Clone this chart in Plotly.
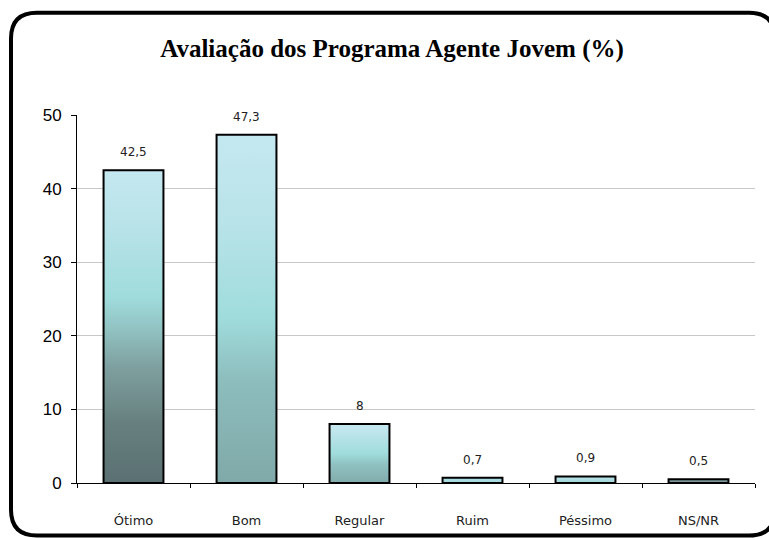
import plotly.graph_objects as go

categories = ["Ótimo", "Bom", "Regular", "Ruim", "Péssimo", "NS/NR"]
values = [42.5, 47.3, 8, 0.7, 0.9, 0.5]
value_labels = ["42,5", "47,3", "8", "0,7", "0,9", "0,5"]
y_ticks = [0, 10, 20, 30, 40, 50]
title_text = "Avaliação dos Programa Agente Jovem (%)"

# per-bar gradient (bottom -> top)
gradients = [
    [[0, "#5a6f72"], [0.2, "#67807f"], [0.38, "#7fa0a0"], [0.5, "#92c3c3"], [0.6, "#a0dcdc"], [0.8, "#b6e2e7"], [1, "#c5e8f0"]],
    [[0, "#80a8a8"], [0.3, "#8dbdbd"], [0.48, "#a0dcdc"], [0.75, "#b8e3e8"], [1, "#c5e8f0"]],
    [[0, "#80a8a8"], [0.35, "#8fc0c0"], [0.55, "#a0dcdc"], [1, "#c5e8f0"]],
    [[0, "#93c7cb"], [1, "#a8dce0"]],
    [[0, "#7fa4a6"], [0.5, "#9fd3d6"], [1, "#b0dfe4"]],
    [[0, "#647d80"], [1, "#7a9698"]],
]

W, H = 769, 540
L, R, T, B = 77, W - 755, 115, H - 486
bar_w = 0.53

fig = go.Figure()
for i, (cat, v) in enumerate(zip(categories, values)):
    x0, x1 = i - bar_w / 2, i + bar_w / 2
    fig.add_trace(go.Scatter(
        x=[x0, x1, x1, x0, x0], y=[0, 0, v, v, 0],
        mode="lines", fill="toself",
        fillgradient=dict(type="vertical", colorscale=gradients[i], start=0, stop=v),
        line=dict(color="black", width=2),
        hoverinfo="skip", showlegend=False,
    ))
    fig.add_annotation(x=i, y=v, text=value_labels[i], showarrow=False,
                       yanchor="bottom", yshift=9,
                       font=dict(family="DejaVu Sans", size=12, color="#222"))

pw, ph = W - L - R, H - T - B
def px(x): return (x - L) / pw
def py(y): return (H - B - y) / ph

x0, x1, y0, y1, r = 11, 775, 12, 539, 26
path = (f"M {px(x0)},{py(y0 + r)} Q {px(x0)},{py(y0)} {px(x0 + r)},{py(y0)} "
        f"L {px(x1 - r)},{py(y0)} Q {px(x1)},{py(y0)} {px(x1)},{py(y0 + r)} "
        f"L {px(x1)},{py(y1 - r)} Q {px(x1)},{py(y1)} {px(x1 - r)},{py(y1)} "
        f"L {px(x0 + r)},{py(y1)} Q {px(x0)},{py(y1)} {px(x0)},{py(y1 - r)} Z")
fig.add_shape(type="path", path=path, xref="paper", yref="paper",
              line=dict(color="black", width=4), layer="above")

fig.update_layout(
    width=W, height=H,
    margin=dict(l=L, r=R, t=T, b=B),
    paper_bgcolor="white", plot_bgcolor="white",
    title=dict(text=f"<b>{title_text}</b>", x=392 / W, xanchor="center",
               y=1 - 48 / H, yanchor="middle",
               font=dict(family="Liberation Serif", size=25, color="black")),
    xaxis=dict(range=[-0.5, 5.5], tickvals=list(range(len(categories))),
               ticktext=categories, ticks="", showgrid=False, zeroline=False,
               showline=True, linecolor="black", linewidth=1,
               ticklabelstandoff=25,
               tickfont=dict(family="DejaVu Sans", size=13, color="#222"),
               minor=dict(tickvals=[k - 0.5 for k in range(len(categories) + 1)],
                          ticks="outside", ticklen=4, tickcolor="black", showgrid=False)),
    yaxis=dict(range=[0, 50], tickvals=y_ticks, ticks="outside", ticklen=5,
               tickcolor="black", showgrid=True, gridcolor="#c8c8c8", gridwidth=1,
               zeroline=False, showline=True, linecolor="black", linewidth=1,
               ticklabelstandoff=6,
               tickfont=dict(family="Liberation Sans", size=17, color="black")),
)

fig.write_html("out.html", config={"displayModeBar": False},
               post_script="document.body.style.margin='0';document.body.style.overflow='hidden';")
